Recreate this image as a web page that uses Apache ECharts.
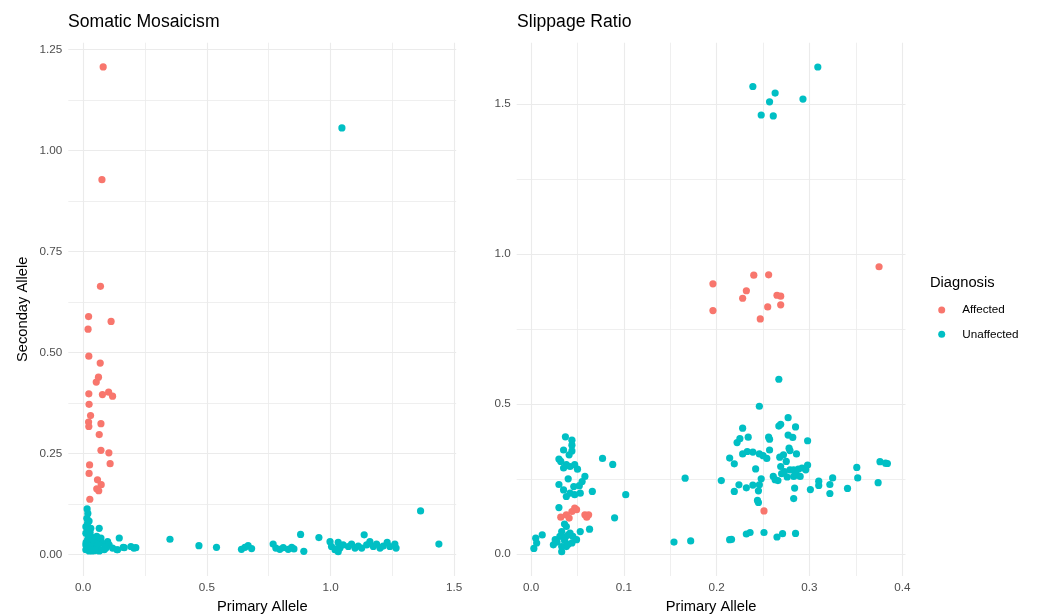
<!DOCTYPE html>
<html>
<head>
<meta charset="utf-8">
<script src="https://cdn.jsdelivr.net/npm/echarts@6/dist/echarts.min.js"></script>
<style>
html,body{margin:0;padding:0;background:#fff;}
#chart{width:1042px;height:615px;}
</style>
</head>
<body>
<div id="chart"></div>
<script>
// ---- Data ----
const panelTitles = ['Somatic Mosaicism', 'Slippage Ratio'];
const xAxisTitle = 'Primary Allele';
const yAxisTitle = 'Seconday Allele';
const legendTitle = 'Diagnosis';
const groups = ['Affected', 'Unaffected'];

// Somatic Mosaicism panel: [primary, secondary]
const somaticAffected = [
  [0.081,1.207],[0.076,0.928],[0.070,0.664],[0.022,0.589],[0.113,0.577],[0.020,0.558],
  [0.023,0.491],[0.069,0.474],[0.062,0.439],[0.053,0.427],[0.023,0.398],[0.078,0.396],
  [0.103,0.402],[0.119,0.392],[0.024,0.372],[0.030,0.344],[0.022,0.328],[0.023,0.317],
  [0.072,0.324],[0.065,0.297],[0.072,0.258],[0.104,0.252],[0.109,0.225],[0.026,0.222],
  [0.024,0.201],[0.058,0.185],[0.073,0.173],[0.055,0.163],[0.063,0.158],[0.027,0.137]
];
const somaticUnaffected = [
  [1.046,1.056],
  [0.016,0.113],[0.019,0.102],[0.015,0.090],[0.024,0.083],[0.011,0.069],[0.065,0.065],
  [0.031,0.065],[0.011,0.053],[0.072,0.041],[0.146,0.041],[0.038,0.032],[0.099,0.032],
  [0.011,0.024],[0.051,0.020],[0.105,0.024],[0.119,0.016],[0.166,0.017],[0.193,0.020],
  [0.213,0.017],[0.139,0.012],[0.011,0.012],[0.024,0.009],[0.065,0.009],[0.085,0.012],
  [0.044,0.016],[0.031,0.045],[0.018,0.036],[0.078,0.028],[0.058,0.032],[0.092,0.016],
  [0.038,0.009],[0.020,0.040],[0.030,0.020],[0.045,0.035],[0.050,0.010],[0.060,0.025],
  [0.075,0.012],[0.088,0.020],[0.012,0.030],[0.028,0.055],[0.022,0.060],[0.035,0.012],
  [0.055,0.045],[0.018,0.078],[0.205,0.016],[0.162,0.018],[0.137,0.012],
  [0.351,0.038],[0.468,0.022],[0.539,0.018],[0.640,0.013],[0.654,0.018],[0.667,0.022],
  [0.681,0.015],[0.768,0.026],[0.779,0.016],[0.795,0.013],[0.809,0.017],[0.829,0.013],
  [0.843,0.018],[0.852,0.014],[0.879,0.050],[0.892,0.008],[0.953,0.042],[0.998,0.032],
  [1.004,0.020],[1.018,0.012],[1.031,0.030],[1.038,0.016],[1.051,0.024],[1.072,0.020],
  [1.085,0.026],[1.099,0.016],[1.112,0.021],[1.126,0.016],[1.136,0.049],[1.146,0.024],
  [1.159,0.032],[1.173,0.020],[1.186,0.026],[1.200,0.016],[1.213,0.021],[1.229,0.030],
  [1.240,0.020],[1.260,0.026],[1.265,0.016],[1.364,0.108],[1.438,0.026],[1.031,0.007],
  [1.025,0.014]
];

// Slippage Ratio panel: [primary, secondary]
const slippageAffected = [
  [0.375,0.958],[0.240,0.930],[0.256,0.931],[0.196,0.901],[0.232,0.878],[0.228,0.853],
  [0.265,0.863],[0.269,0.860],[0.269,0.831],[0.255,0.824],[0.196,0.812],[0.247,0.784],
  [0.251,0.144],
  [0.047,0.153],[0.044,0.142],[0.038,0.131],[0.032,0.123],[0.041,0.120],[0.058,0.131],
  [0.062,0.131],[0.060,0.123],[0.049,0.148]
];
const slippageUnaffected = [
  [0.309,1.624],[0.239,1.559],[0.263,1.537],[0.257,1.508],[0.293,1.517],[0.248,1.464],
  [0.261,1.461],
  [0.267,0.583],[0.246,0.493],[0.277,0.455],[0.267,0.427],[0.269,0.433],[0.285,0.424],
  [0.228,0.420],[0.277,0.397],[0.282,0.389],[0.256,0.390],[0.257,0.383],[0.234,0.390],
  [0.225,0.385],[0.222,0.372],[0.298,0.378],[0.228,0.334],[0.233,0.342],[0.239,0.340],
  [0.246,0.334],[0.250,0.328],[0.257,0.347],[0.254,0.319],[0.214,0.320],[0.219,0.301],
  [0.268,0.323],[0.272,0.331],[0.278,0.353],[0.279,0.345],[0.286,0.334],[0.275,0.309],
  [0.269,0.292],[0.279,0.281],[0.273,0.275],[0.283,0.281],[0.288,0.283],[0.292,0.287],
  [0.298,0.297],[0.296,0.281],[0.242,0.284],[0.270,0.268],[0.276,0.257],[0.283,0.259],
  [0.286,0.264],[0.290,0.259],[0.261,0.259],[0.263,0.248],[0.266,0.245],[0.248,0.251],
  [0.246,0.231],[0.239,0.230],[0.232,0.221],[0.224,0.231],[0.219,0.209],[0.245,0.211],
  [0.205,0.245],[0.166,0.253],[0.284,0.220],[0.283,0.185],[0.301,0.215],[0.310,0.243],
  [0.310,0.229],[0.325,0.254],[0.322,0.232],[0.322,0.202],[0.341,0.219],[0.351,0.289],
  [0.352,0.254],[0.374,0.238],[0.376,0.308],[0.382,0.303],[0.384,0.302],[0.244,0.179],
  [0.245,0.172],
  [0.154,0.040],[0.172,0.044],[0.214,0.048],[0.216,0.049],[0.232,0.067],[0.236,0.072],
  [0.251,0.072],[0.265,0.057],[0.271,0.068],[0.285,0.069],
  [0.037,0.391],[0.044,0.380],[0.044,0.363],[0.035,0.347],[0.044,0.344],[0.041,0.331],
  [0.030,0.317],[0.077,0.319],[0.088,0.299],[0.032,0.309],[0.038,0.298],[0.042,0.292],
  [0.047,0.298],[0.050,0.283],[0.035,0.287],[0.040,0.251],[0.058,0.259],[0.055,0.242],
  [0.030,0.232],[0.052,0.228],[0.046,0.225],[0.066,0.209],[0.035,0.214],[0.042,0.203],
  [0.038,0.192],[0.047,0.198],[0.053,0.203],[0.102,0.198],[0.030,0.155],[0.090,0.121],
  [0.063,0.083],[0.053,0.075],[0.038,0.092],[0.033,0.075],[0.040,0.064],[0.045,0.059],
  [0.026,0.048],[0.024,0.031],[0.033,0.025],[0.044,0.037],[0.049,0.048],[0.005,0.053],
  [0.012,0.064],[0.006,0.037],[0.003,0.019],[0.033,0.008],[0.037,0.057],[0.038,0.025],
  [0.031,0.059],[0.036,0.045],[0.042,0.070],[0.028,0.040],[0.040,0.033],[0.036,0.100]
];

// Tick values
const somaticXTicks = [0, 0.5, 1.0, 1.5];
const somaticXMinor = [0.25, 0.75, 1.25];
const somaticYTicks = [0, 0.25, 0.5, 0.75, 1.0, 1.25];
const somaticYMinor = [0.125, 0.375, 0.625, 0.875, 1.125];
const slippageXTicks = [0, 0.1, 0.2, 0.3, 0.4];
const slippageXMinor = [0.05, 0.15, 0.25, 0.35];
const slippageYTicks = [0, 0.5, 1.0, 1.5];
const slippageYMinor = [0.25, 0.75, 1.25];

// Axis extents (ggplot default 5% expansion)
const somaticXRange = [-0.06, 1.508];
const somaticYRange = [-0.053, 1.267];
const slippageXRange = [-0.0155, 0.4035];
const slippageYRange = [-0.073, 1.705];

const colors = {Affected: '#F8766D', Unaffected: '#00BFC4'};
const FONT = '"Liberation Sans", Arial, Helvetica, sans-serif';
const GRID = '#EBEBEB';

function majorAxis(gridIndex, range, ticks, decimals, extra) {
  return Object.assign({
    type: 'value', gridIndex: gridIndex, min: range[0], max: range[1],
    axisLine: {show: false},
    axisTick: {show: false, customValues: ticks},
    axisLabel: {
      customValues: ticks, color: '#4D4D4D', fontSize: 11.7, fontFamily: FONT,
      margin: 6,
      formatter: function (v) { return Number(v).toFixed(decimals); }
    },
    splitLine: {show: true, lineStyle: {color: GRID, width: 1.1}},
    z: 1
  }, extra || {});
}
function minorAxis(gridIndex, range, ticks, position) {
  return {
    type: 'value', gridIndex: gridIndex, min: range[0], max: range[1], position: position,
    axisLine: {show: false},
    axisTick: {show: false, customValues: ticks},
    axisLabel: {show: false},
    splitLine: {show: true, lineStyle: {color: GRID, width: 0.8}},
    z: 0
  };
}
const nameStyle = {color: '#000', fontSize: 14.7, fontFamily: FONT};
const titleStyle = {fontSize: 17.6, fontWeight: 'normal', color: '#000', fontFamily: FONT};

const option = {
  backgroundColor: '#fff',
  animation: false,
  title: [
    {text: panelTitles[0], left: 68, top: 13, padding: 0, textStyle: titleStyle},
    {text: panelTitles[1], left: 517, top: 13, padding: 0, textStyle: titleStyle},
    {text: legendTitle, left: 930, top: 275, padding: 0,
     textStyle: {fontSize: 14.7, fontWeight: 'normal', color: '#000', fontFamily: FONT}}
  ],
  legend: {
    data: groups, orient: 'vertical', left: 938.2, top: 304, padding: 0, icon: 'circle',
    itemWidth: 7, itemHeight: 7, itemGap: 12.3,
    textStyle: {fontSize: 11.7, color: '#000', fontFamily: FONT, padding: [0, 0, 0, 12]}
  },
  grid: [
    {left: 68.3, top: 42.7, width: 387.9, height: 533.3, containLabel: false, outerBoundsMode: 'none'},
    {left: 516.7, top: 42.7, width: 388.8, height: 533.3, containLabel: false, outerBoundsMode: 'none'}
  ],
  xAxis: [
    majorAxis(0, somaticXRange, somaticXTicks, 1, {position: 'bottom', name: xAxisTitle, nameLocation: 'middle', nameGap: 23, nameTextStyle: nameStyle}),
    minorAxis(0, somaticXRange, somaticXMinor, 'top'),
    majorAxis(1, slippageXRange, slippageXTicks, 1, {position: 'bottom', name: xAxisTitle, nameLocation: 'middle', nameGap: 23, nameTextStyle: nameStyle}),
    minorAxis(1, slippageXRange, slippageXMinor, 'top')
  ],
  yAxis: [
    majorAxis(0, somaticYRange, somaticYTicks, 2, {position: 'left', name: yAxisTitle, nameLocation: 'middle', nameGap: 38, nameTextStyle: nameStyle}),
    minorAxis(0, somaticYRange, somaticYMinor, 'right'),
    majorAxis(1, slippageYRange, slippageYTicks, 1, {position: 'left'}),
    minorAxis(1, slippageYRange, slippageYMinor, 'right')
  ],
  series: [
    {name: 'Unaffected', type: 'scatter', xAxisIndex: 0, yAxisIndex: 0, data: somaticUnaffected},
    {name: 'Affected', type: 'scatter', xAxisIndex: 0, yAxisIndex: 0, data: somaticAffected},
    {name: 'Unaffected', type: 'scatter', xAxisIndex: 2, yAxisIndex: 2, data: slippageUnaffected},
    {name: 'Affected', type: 'scatter', xAxisIndex: 2, yAxisIndex: 2, data: slippageAffected}
  ].map(function (s) {
    return Object.assign(s, {
      symbol: 'circle', symbolSize: 7.2,
      itemStyle: {color: colors[s.name], opacity: 1},
      emphasis: {disabled: true}, z: 5
    });
  })
};

const chart = echarts.init(document.getElementById('chart'), null, {renderer: 'canvas'});
chart.setOption(option);
</script>
</body>
</html>
